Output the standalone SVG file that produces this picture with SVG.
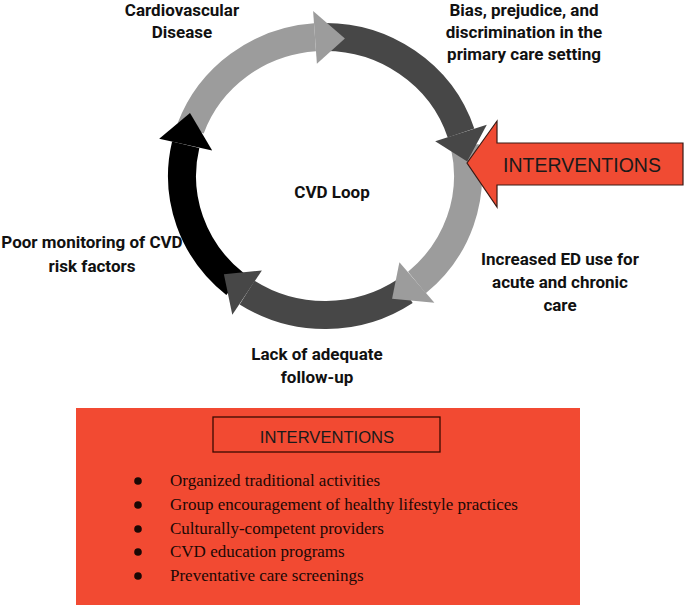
<svg xmlns="http://www.w3.org/2000/svg" width="685" height="607" viewBox="0 0 685 607">
<style>
.lbl{font-family:Roboto,"Liberation Sans",sans-serif;font-weight:bold;font-size:17px;fill:#111;text-anchor:middle}
.band{fill:none;stroke-width:28}
.lg{stroke:#9c9c9c}.lgf{fill:#9c9c9c}
.dg{stroke:#474747}.dgf{fill:#474747}
.bk{stroke:#000}.bkf{fill:#000}
.item{font-family:"Liberation Serif",serif;font-size:17px;fill:#1a0805}
.hd{font-family:"Liberation Sans",Arial,sans-serif;fill:#1a1a1a;text-anchor:middle}
</style>
<rect width="685" height="607" fill="#fff"/>
<g id="connectors">
<path class="band lg" d="M190.6,128.5 A143,139 0 0 1 315.0,37.3"/>
<path class="band dg" d="M320.0,37.1 A143,139 0 0 1 461.0,133.0"/>
<path class="band lg" d="M464.9,147.1 A143,139 0 0 1 416.9,282.5"/>
<path class="band dg" d="M405.0,291.2 A143,139 0 0 1 247.1,292.6"/>
<path class="band bk" d="M235.0,284.0 A143,139 0 0 1 185.7,144.7"/>
<polygon class="lgf" points="313.1,10.9 344.9,38.4 316.9,63.7"/>
<polygon class="dgf" points="486.8,124.8 467.2,161.5 435.2,141.2"/>
<polygon class="lgf" points="434.4,302.7 392.1,298.7 399.4,262.3"/>
<polygon class="dgf" points="232.3,314.8 223.9,274.3 261.9,270.4"/>
<polygon class="bkf" points="159.2,138.8 190,113 212.2,150.6"/>
</g>
<g id="loop-label"><text class="lbl" x="332" y="198">CVD Loop</text></g>
<g id="n-cvd"><text class="lbl" x="182" y="16">Cardiovascular</text><text class="lbl" x="182" y="38">Disease</text></g>
<g id="n-bias"><text class="lbl" x="524" y="16">Bias, prejudice, and</text><text class="lbl" x="524" y="38">discrimination in the</text><text class="lbl" x="524" y="60">primary care setting</text></g>
<g id="n-ed"><text class="lbl" x="560" y="265">Increased ED use for</text><text class="lbl" x="560" y="288">acute and chronic</text><text class="lbl" x="560" y="311">care</text></g>
<g id="n-followup"><text class="lbl" x="317" y="360">Lack of adequate</text><text class="lbl" x="317" y="383">follow-up</text></g>
<g id="n-monitor"><text class="lbl" x="92" y="248">Poor monitoring of CVD</text><text class="lbl" x="92" y="272">risk factors</text></g>
<g id="interventions-arrow">
<polygon points="467,163 497,121 497,143 683,143 683,185 497,185 497,207" fill="#f04b33" stroke="#3a1a14" stroke-width="1.2"/>
<text class="hd" x="582" y="172" font-size="19.5">INTERVENTIONS</text>
</g>
<g id="interventions-box">
<rect x="76" y="408" width="504" height="197" fill="#f24a32"/>
<rect x="213" y="417" width="227" height="35" fill="none" stroke="#3a0a00" stroke-width="1.3"/>
<text class="hd" x="327" y="443" font-size="16.6">INTERVENTIONS</text>
<g fill="#1a0805">
<circle cx="138" cy="481" r="3.8"/><circle cx="138" cy="505" r="3.8"/><circle cx="138" cy="529" r="3.8"/><circle cx="138" cy="552" r="3.8"/><circle cx="138" cy="576" r="3.8"/>
</g>
<text class="item" x="170" y="486">Organized traditional activities</text>
<text class="item" x="170" y="510">Group encouragement of healthy lifestyle practices</text>
<text class="item" x="170" y="534">Culturally-competent providers</text>
<text class="item" x="170" y="557">CVD education programs</text>
<text class="item" x="170" y="581">Preventative care screenings</text>
</g>
</svg>
